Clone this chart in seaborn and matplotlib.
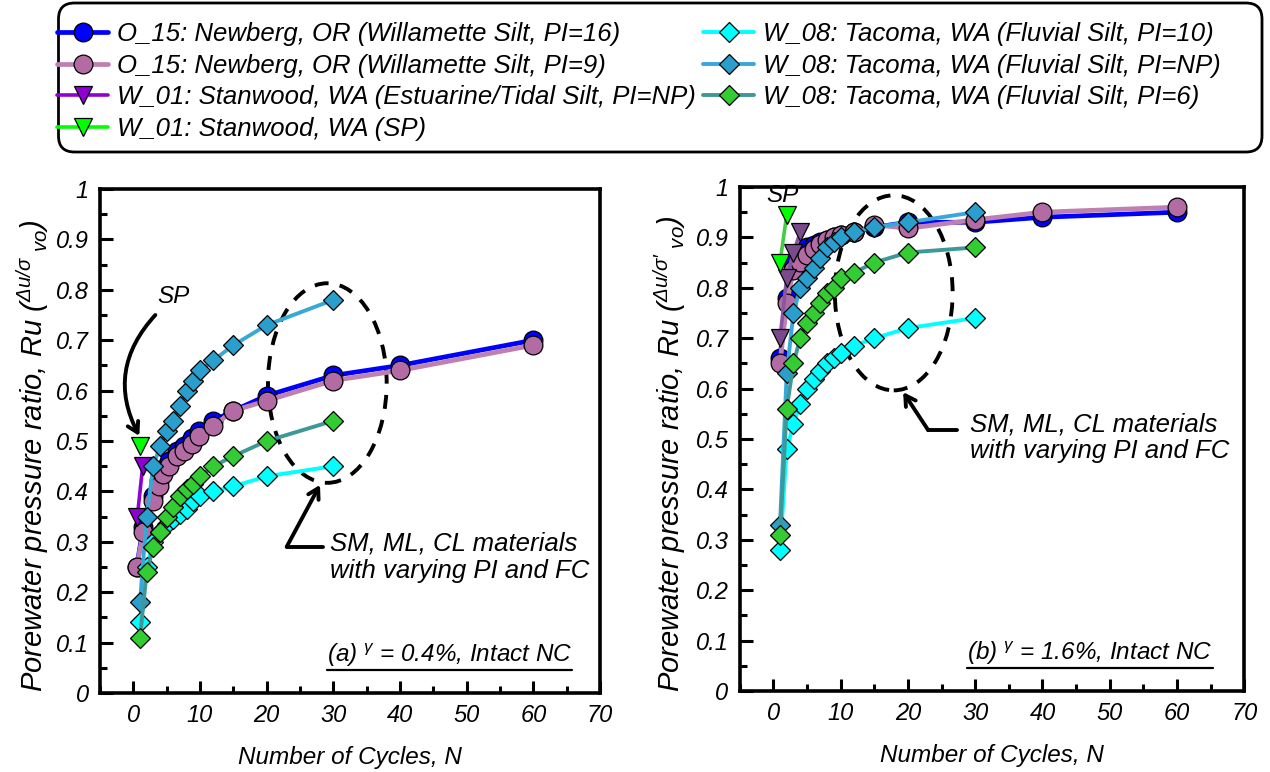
import numpy as np
import pandas as pd
import matplotlib
matplotlib.use("Agg")
import matplotlib.pyplot as plt
import seaborn as sns
from matplotlib.patches import Ellipse, FancyBboxPatch
from matplotlib.lines import Line2D
from matplotlib.ticker import MultipleLocator, FuncFormatter

# ---------------- data ----------------
labels = [
    "O_15: Newberg, OR (Willamette Silt, PI=16)",
    "O_15: Newberg, OR (Willamette Silt, PI=9)",
    "W_01: Stanwood, WA (Estuarine/Tidal Silt, PI=NP)",
    "W_01: Stanwood, WA (SP)",
    "W_08: Tacoma, WA (Fluvial Silt, PI=10)",
    "W_08: Tacoma, WA (Fluvial Silt, PI=NP)",
    "W_08: Tacoma, WA (Fluvial Silt, PI=6)",
]

# panel (a) gamma = 0.4 %
a_o15_n = [0.5, 1.5, 3, 3.8, 4.5, 5.4, 6.5, 7.6, 8.8, 9.9, 12, 15, 20, 30, 40, 60]
a_o15_16 = [0.25, 0.33, 0.39, 0.42, 0.445, 0.46, 0.48, 0.49, 0.505, 0.52, 0.54, 0.56, 0.59, 0.63, 0.65, 0.70]
a_o15_9 = [0.25, 0.32, 0.38, 0.41, 0.435, 0.45, 0.47, 0.48, 0.495, 0.51, 0.53, 0.56, 0.58, 0.62, 0.64, 0.69]
a_w01np_n = [0.6, 1.4]
a_w01np = [0.35, 0.45]
a_w01sp_n = [1]
a_w01sp = [0.49]
a_w08_n = [1, 2, 3, 4, 5, 6, 7, 8, 9, 10, 12, 15, 20, 30]
a_w08_10 = [0.14, 0.25, 0.30, 0.32, 0.335, 0.345, 0.355, 0.365, 0.38, 0.39, 0.40, 0.41, 0.43, 0.45]
a_w08_np = [0.18, 0.35, 0.45, 0.49, 0.52, 0.54, 0.57, 0.60, 0.62, 0.64, 0.66, 0.69, 0.73, 0.78]
a_w08_6 = [0.11, 0.24, 0.29, 0.32, 0.35, 0.37, 0.39, 0.405, 0.415, 0.43, 0.45, 0.47, 0.50, 0.54]

# panel (b) gamma = 1.6 %
b_o15_n = [1, 2, 3, 4, 5, 6, 7, 8, 9, 10, 12, 15, 20, 30, 40, 60]
b_o15_16 = [0.66, 0.78, 0.85, 0.87, 0.88, 0.885, 0.89, 0.895, 0.90, 0.905, 0.91, 0.92, 0.93, 0.93, 0.94, 0.95]
b_o15_9 = [0.65, 0.77, 0.835, 0.852, 0.865, 0.876, 0.887, 0.895, 0.90, 0.905, 0.91, 0.925, 0.918, 0.935, 0.95, 0.96]
b_w01np_n = [1, 2, 3, 4]
b_w01np = [0.70, 0.82, 0.87, 0.91]
b_w01sp_n = [1, 2]
b_w01sp = [0.85, 0.945]
b_w08_n = [1, 2, 3, 4, 5, 6, 7, 8, 9, 10, 12, 15, 20, 30]
b_w08_10 = [0.28, 0.48, 0.53, 0.57, 0.60, 0.62, 0.635, 0.65, 0.66, 0.67, 0.685, 0.70, 0.72, 0.74]
b_w08_np = [0.33, 0.63, 0.75, 0.80, 0.82, 0.84, 0.86, 0.88, 0.89, 0.90, 0.91, 0.92, 0.93, 0.95]
b_w08_6 = [0.31, 0.56, 0.65, 0.70, 0.73, 0.75, 0.77, 0.79, 0.80, 0.82, 0.83, 0.85, 0.87, 0.88]

x_ticks = [0, 10, 20, 30, 40, 50, 60, 70]
y_ticks = [0, 0.1, 0.2, 0.3, 0.4, 0.5, 0.6, 0.7, 0.8, 0.9, 1]

# ---------------- styles ----------------
sns.set_theme(style="white")
plt.rcParams["font.family"] = ["Liberation Sans", "DejaVu Sans"]
plt.rcParams["font.style"] = "italic"
plt.rcParams["text.color"] = "black"
plt.rcParams["axes.labelcolor"] = "black"
plt.rcParams["xtick.color"] = "black"
plt.rcParams["ytick.color"] = "black"
plt.rcParams["mathtext.fontset"] = "custom"
plt.rcParams["mathtext.rm"] = "Liberation Sans:italic"
plt.rcParams["mathtext.it"] = "Liberation Sans:italic"
plt.rcParams["mathtext.sf"] = "Liberation Sans:italic"

styles = [
    dict(color="#0000ff", mfc="#0000ff", marker="o", ms=13.5, lw=3.4),
    dict(color="#bd80b1", mfc="#b36ba3", marker="o", ms=13.5, lw=3.4),
    dict(color="#8f00d2", mfc="#8f00d2", marker="v", ms=12.5, lw=2.6),
    dict(color="#00ff00", mfc="#00ff00", marker="v", ms=12.5, lw=2.6),
    dict(color="#00ffff", mfc="#00ffff", marker="D", ms=9.8, lw=2.8),
    dict(color="#38a8d8", mfc="#2a9fcd", marker="D", ms=9.8, lw=2.8),
    dict(color="#3f9898", mfc="#33cc33", marker="D", ms=9.8, lw=2.8),
]

panel_a = [
    (a_o15_n, a_o15_16), (a_o15_n, a_o15_9), (a_w01np_n, a_w01np), (a_w01sp_n, a_w01sp),
    (a_w08_n, a_w08_10), (a_w08_n, a_w08_np), (a_w08_n, a_w08_6),
]
panel_b = [
    (b_o15_n, b_o15_16), (b_o15_n, b_o15_9), (b_w01np_n, b_w01np), (b_w01sp_n, b_w01sp),
    (b_w08_n, b_w08_10), (b_w08_n, b_w08_np), (b_w08_n, b_w08_6),
]

fig = plt.figure(figsize=(12.7, 7.72), dpi=100)
ax1 = fig.add_axes([100 / 1270, 79 / 772, 500 / 1270, 504 / 772])
ax2 = fig.add_axes([739.6 / 1270, 81 / 772, 504.8 / 1270, 504 / 772])

TICK_FS = 17
LABEL_FS = 17.5
YLABEL_FS = 21


def draw_panel(ax, series, override=None):
    for i, ((xs, ys), st) in enumerate(zip(series, styles)):
        st = dict(st)
        if override and i in override:
            st.update(override[i])
        df = pd.DataFrame({"N": xs, "Ru": ys})
        sns.lineplot(data=df, x="N", y="Ru", ax=ax, sort=False, estimator=None,
                     color=st["color"], linewidth=st["lw"], marker=st["marker"],
                     markersize=st["ms"], markerfacecolor=st["mfc"],
                     markeredgecolor="black", markeredgewidth=0.9,
                     label=labels[i], legend=False)
    if ax.get_legend() is not None:
        ax.get_legend().remove()
    ax.set_xlim(-5, 70)
    ax.set_ylim(0, 1)
    ax.set_xticks(x_ticks)
    ax.set_yticks(y_ticks)
    ax.xaxis.set_minor_locator(MultipleLocator(5))
    ax.yaxis.set_minor_locator(MultipleLocator(0.05))
    ax.yaxis.set_major_formatter(FuncFormatter(lambda v, p: f"{v:g}"))
    ax.tick_params(which="both", direction="in", bottom=True, left=True, top=False, right=False,
                   width=2.2, labelsize=TICK_FS, colors="black")
    ax.tick_params(which="major", length=9)
    ax.tick_params(which="minor", length=5)
    ax.tick_params(axis="x", pad=8)
    ax.tick_params(axis="y", pad=8)
    for sp in ax.spines.values():
        sp.set_visible(True)
        sp.set_color("black")
        sp.set_linewidth(2.6)
    for t in ax.get_xticklabels() + ax.get_yticklabels():
        t.set_fontstyle("italic")
    ax.set_xlabel("Number of Cycles, N", fontsize=LABEL_FS, fontstyle="italic", color="black")
    ax.xaxis.set_label_coords(0.5, -0.127)
    ax.xaxis.label.set_va("center")
    ax.grid(False)


draw_panel(ax1, panel_a)
draw_panel(ax2, panel_b, override={2: dict(color="#8a55a0", mfc="#7a4a8c"), 3: dict(color="#44cc44")})

ax1.set_ylabel(r"Porewater pressure ratio, Ru ($^{\Delta u/\sigma}{}_{\ vo}$)", fontsize=YLABEL_FS, color="black")
ax2.set_ylabel(r"Porewater pressure ratio, Ru ($^{\Delta u/\sigma\prime}{}_{\ vo}$)", fontsize=YLABEL_FS, color="black")
ax1.yaxis.set_label_coords(-0.135, 0.47)
ax2.yaxis.set_label_coords(-0.138, 0.47)
for ax in (ax1, ax2):
    ax.yaxis.label.set_va("center")

dash = (0, (3.6, 2.9))
arrow_kw = dict(arrowstyle="->,head_length=0.6,head_width=0.35", lw=2.8, color="black", shrinkA=0, shrinkB=0)
# panel a annotations
ax1.add_patch(Ellipse((29.1, 0.615), 17.8, 0.396, fill=False, ec="black", lw=2.8, ls=dash, zorder=1))
ax1.text(6.0, 0.786, "SP", fontsize=LABEL_FS, ha="center", va="center")
ax1.annotate("", xy=(0.9, 0.51), xytext=(3.3, 0.75),
             arrowprops=dict(arrow_kw, connectionstyle="arc3,rad=0.35"))
ax1.plot([23.0, 28.5], [0.29, 0.29], color="black", lw=2.8)
ax1.annotate("", xy=(28.0, 0.413), xytext=(23.0, 0.29), arrowprops=arrow_kw)
ax1.text(29.5, 0.32, "SM, ML, CL materials\nwith varying PI and FC", fontsize=18.5,
         ha="left", va="top", linespacing=1.15)
ta = ax1.text(65.8, 0.075, r"(a) $^{\gamma}$ = 0.4%, Intact NC", fontsize=LABEL_FS, ha="right", va="center")

# panel b annotations
ax2.add_patch(Ellipse((17.9, 0.79), 17.5, 0.387, fill=False, ec="black", lw=2.8, ls=dash, zorder=1))
ax2.text(1.4, 0.984, "SP", fontsize=LABEL_FS, ha="center", va="center")
ax2.plot([23.0, 27.3], [0.518, 0.518], color="black", lw=2.8)
ax2.annotate("", xy=(19.3, 0.593), xytext=(23.0, 0.518), arrowprops=arrow_kw)
ax2.text(29.2, 0.553, "SM, ML, CL materials\nwith varying PI and FC", fontsize=18.5,
         ha="left", va="top", linespacing=1.15)
tb = ax2.text(65.3, 0.075, r"(b) $^{\gamma}$ = 1.6%, Intact NC", fontsize=LABEL_FS, ha="right", va="center")

# legend: two columns placed explicitly, shared rounded frame
handles, hl = ax1.get_legend_handles_labels()
leg_kw = dict(loc="upper left", fontsize=18.5, frameon=False, handlelength=2.0, handletextpad=0.35,
              labelspacing=0.30, borderpad=0, borderaxespad=0, numpoints=1)
leg1 = fig.legend(handles[:4], hl[:4], bbox_to_anchor=(57 / 1270, 1 - 22 / 772), **leg_kw)
leg2 = fig.legend(handles[4:7], hl[4:7], bbox_to_anchor=(703 / 1270, 1 - 22 / 772), **leg_kw)
for lg in (leg1, leg2):
    for t in lg.get_texts():
        t.set_fontstyle("italic")
        t.set_color("black")
frame = FancyBboxPatch((0.585, 6.20), 12.035, 1.49, boxstyle="round,pad=0,rounding_size=0.16",
                       transform=fig.dpi_scale_trans, fill=False, ec="black", lw=2.0)
fig.add_artist(frame)

# underline panel labels
fig.canvas.draw()
rend = fig.canvas.get_renderer()
inv = fig.transFigure.inverted()
for t in (ta, tb):
    bb = t.get_window_extent(rend)
    (x0, y0) = inv.transform((bb.x0, bb.y0 - 1))
    (x1, _) = inv.transform((bb.x1, bb.y0 - 1))
    fig.add_artist(Line2D([x0, x1], [y0, y0], transform=fig.transFigure, color="black", lw=1.6))

fig.savefig("out.png", dpi=100, facecolor="white")
